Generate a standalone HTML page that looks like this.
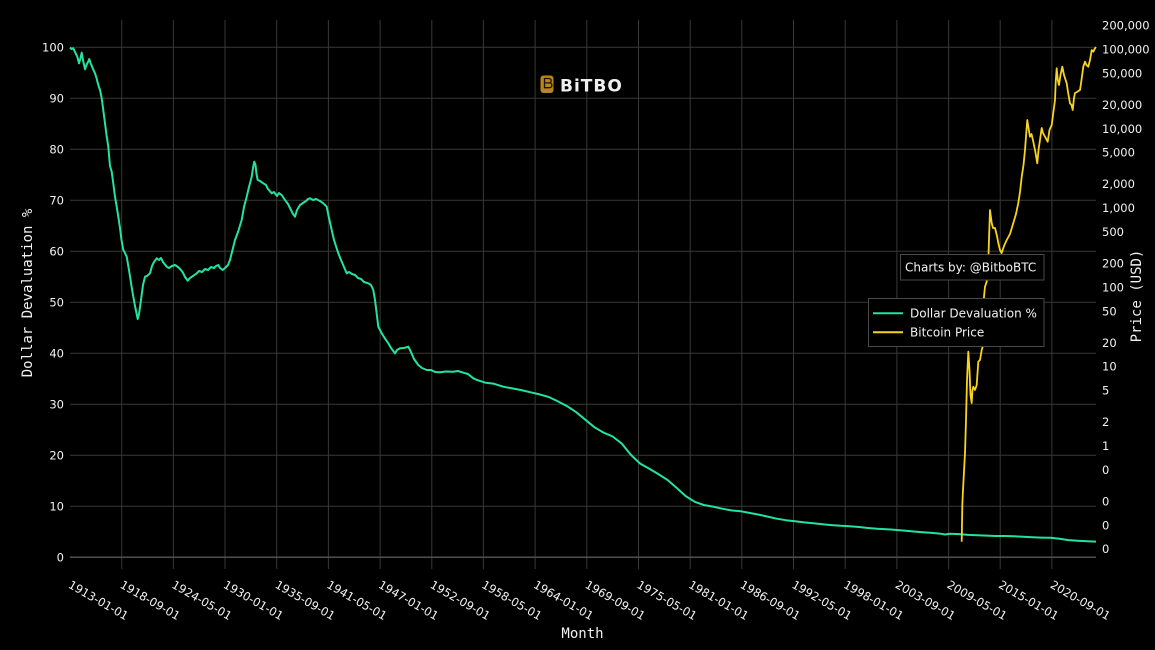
<!DOCTYPE html>
<html>
<head>
<meta charset="utf-8">
<style>
html,body{margin:0;padding:0;background:#000;}
svg{display:block;}
text{font-family:"DejaVu Sans","Liberation Sans",sans-serif;fill:#f2f2f2;}
.mono{font-family:"DejaVu Sans Mono","Liberation Mono",monospace;}
</style>
</head>
<body>
<svg width="1155" height="650" viewBox="0 0 1155 650" xmlns="http://www.w3.org/2000/svg">
<rect x="0" y="0" width="1155" height="650" fill="#000"/>

<!-- horizontal grid -->
<g stroke="#383838" stroke-width="1">
<line x1="70" x2="1096" y1="47.3" y2="47.3"/>
<line x1="70" x2="1096" y1="98.3" y2="98.3"/>
<line x1="70" x2="1096" y1="149.3" y2="149.3"/>
<line x1="70" x2="1096" y1="200.3" y2="200.3"/>
<line x1="70" x2="1096" y1="251.3" y2="251.3"/>
<line x1="70" x2="1096" y1="302.3" y2="302.3"/>
<line x1="70" x2="1096" y1="353.3" y2="353.3"/>
<line x1="70" x2="1096" y1="404.3" y2="404.3"/>
<line x1="70" x2="1096" y1="455.3" y2="455.3"/>
<line x1="70" x2="1096" y1="506.3" y2="506.3"/>
</g>
<!-- vertical grid + ticks -->
<g stroke="#383838" stroke-width="1">
<line x1="121.7" x2="121.7" y1="20" y2="569"/>
<line x1="173.4" x2="173.4" y1="20" y2="569"/>
<line x1="225.0" x2="225.0" y1="20" y2="569"/>
<line x1="276.7" x2="276.7" y1="20" y2="569"/>
<line x1="328.4" x2="328.4" y1="20" y2="569"/>
<line x1="380.1" x2="380.1" y1="20" y2="569"/>
<line x1="431.8" x2="431.8" y1="20" y2="569"/>
<line x1="483.4" x2="483.4" y1="20" y2="569"/>
<line x1="535.1" x2="535.1" y1="20" y2="569"/>
<line x1="586.8" x2="586.8" y1="20" y2="569"/>
<line x1="638.5" x2="638.5" y1="20" y2="569"/>
<line x1="690.2" x2="690.2" y1="20" y2="569"/>
<line x1="741.8" x2="741.8" y1="20" y2="569"/>
<line x1="793.5" x2="793.5" y1="20" y2="569"/>
<line x1="845.2" x2="845.2" y1="20" y2="569"/>
<line x1="896.9" x2="896.9" y1="20" y2="569"/>
<line x1="948.6" x2="948.6" y1="20" y2="569"/>
<line x1="1000.2" x2="1000.2" y1="20" y2="569"/>
<line x1="1051.9" x2="1051.9" y1="20" y2="569"/>
</g>
<!-- zero line -->
<line x1="70" x2="1096" y1="557.3" y2="557.3" stroke="#505050" stroke-width="1.5"/>

<!-- left y tick labels -->
<g font-size="11.5" text-anchor="end">
<text x="64" y="51.5">100</text>
<text x="64" y="102.5">90</text>
<text x="64" y="153.5">80</text>
<text x="64" y="204.5">70</text>
<text x="64" y="255.5">60</text>
<text x="64" y="306.5">50</text>
<text x="64" y="357.5">40</text>
<text x="64" y="408.5">30</text>
<text x="64" y="459.5">20</text>
<text x="64" y="510.5">10</text>
<text x="64" y="561.5">0</text>
</g>

<!-- right y tick labels -->
<g font-size="11.5" text-anchor="start">
<text x="1102" y="29.6">200,000</text>
<text x="1102" y="53.5">100,000</text>
<text x="1102" y="77.4">50,000</text>
<text x="1102" y="108.9">20,000</text>
<text x="1102" y="132.8">10,000</text>
<text x="1102" y="156.7">5,000</text>
<text x="1102" y="188.2">2,000</text>
<text x="1102" y="212.1">1,000</text>
<text x="1102" y="236.1">500</text>
<text x="1102" y="267.6">200</text>
<text x="1102" y="291.4">100</text>
<text x="1102" y="315.3">50</text>
<text x="1102" y="346.8">20</text>
<text x="1102" y="370.7">10</text>
<text x="1102" y="394.6">5</text>
<text x="1102" y="426.1">2</text>
<text x="1102" y="450">1</text>
<text x="1102" y="473.9">0</text>
<text x="1102" y="505.4">0</text>
<text x="1102" y="529.3">0</text>
<text x="1102" y="553.2">0</text>
</g>

<!-- x tick labels -->
<g font-size="11.5">
<text transform="translate(67.5,587) rotate(30)">1913-01-01</text>
<text transform="translate(119.2,587) rotate(30)">1918-09-01</text>
<text transform="translate(170.9,587) rotate(30)">1924-05-01</text>
<text transform="translate(222.5,587) rotate(30)">1930-01-01</text>
<text transform="translate(274.2,587) rotate(30)">1935-09-01</text>
<text transform="translate(325.9,587) rotate(30)">1941-05-01</text>
<text transform="translate(377.6,587) rotate(30)">1947-01-01</text>
<text transform="translate(429.3,587) rotate(30)">1952-09-01</text>
<text transform="translate(480.9,587) rotate(30)">1958-05-01</text>
<text transform="translate(532.6,587) rotate(30)">1964-01-01</text>
<text transform="translate(584.3,587) rotate(30)">1969-09-01</text>
<text transform="translate(636.0,587) rotate(30)">1975-05-01</text>
<text transform="translate(687.7,587) rotate(30)">1981-01-01</text>
<text transform="translate(739.3,587) rotate(30)">1986-09-01</text>
<text transform="translate(791.0,587) rotate(30)">1992-05-01</text>
<text transform="translate(842.7,587) rotate(30)">1998-01-01</text>
<text transform="translate(894.4,587) rotate(30)">2003-09-01</text>
<text transform="translate(946.1,587) rotate(30)">2009-05-01</text>
<text transform="translate(997.7,587) rotate(30)">2015-01-01</text>
<text transform="translate(1049.4,587) rotate(30)">2020-09-01</text>
</g>

<!-- axis titles -->
<text class="mono" font-size="14" text-anchor="middle" transform="translate(32,293) rotate(-90)">Dollar Devaluation %</text>
<text class="mono" font-size="14" text-anchor="middle" x="582.5" y="638">Month</text>
<text class="mono" font-size="14" text-anchor="middle" transform="translate(1141,296) rotate(-90)">Price (USD)</text>

<!-- Dollar devaluation line -->
<polyline fill="none" stroke="#22e3a0" stroke-width="2" stroke-linejoin="round" points="
70,47.5 71.5,49 73.3,48.3 75,52 77.3,56.7 79,63.3 80.5,58 81.7,52.7 83,60 85,69.3 86.5,65 88,62 89.3,59 90.5,63 91.7,65.7 93,69 95,73.3 96.5,78 98.3,85 100,90 101.7,98.3 103,108 105,123.3 106.5,135 108.3,146.7 110,166 111.7,171.7 113.5,185 115,196.7 116.7,206.7 118.3,216.7 120,228 121.5,240 123.3,250 124.5,252 126.7,256.7 129,270 131,283 133,295 135,306 137.7,319 139,314 141,300 143,285 145,276.7 147,276 150,273.3 152,266 154,262 156.7,258.3 159,260 161,258 163,262 166.7,266.7 169,268 172,266 175,265 178,267 181,270 183.3,273.3 185,277 187.7,280.7 190,278 193,276 196.7,273.3 199,271 202,272 205,269 208,270 211,267 214,268 216,266 218.3,265 220,268 222.7,270 225,268 228,265 230,260 232,252 235,240 238,232 241.7,220 244,207 246.7,196.7 249,187 251.7,176.7 253,168 254.3,161.7 255.5,165 256.5,174 257.7,180 260,181 263.3,183.3 266,185 268,189 271.7,193.3 274,192 277,196 279,193 281.7,195 285,200 288,204 291,210 293,214 295,216.7 297,210 300,205 303,203 306,201 308,199 310,198.3 313,200 316,199 320,201 323.3,203.3 326.7,206.7 329,218 331.7,230 334,240 338.3,253.3 341,260 344,267 346.7,273.3 349,272 352,274 355,275 358,278 361,279 364,282 368.3,283.3 371,285 373.3,290 375,300 376.5,312 378.3,326.7 381,332 384,337 388.3,343.3 391,348 395,353.3 397,350 400,348.3 404,348 408.3,346.7 411,352 414,359 418.3,365 422,368 426.7,370 431,370 435,372 440,372.3 446,371.5 453.3,371.7 458,371 463.3,372.7 468,374 473.3,378.3 477,380 485,382.6 494.1,383.8 503.2,386.7 512.3,388.4 521.4,390.1 530.6,392.3 539.7,394.4 548.8,397 557.9,401.4 567,406.1 576.2,412.2 585.3,419.7 594.4,427.2 603.5,432.6 612.6,436.5 621.8,443.6 630.9,454.9 640,463.5 649.1,468.6 658.2,474 667.4,479.9 676.5,487.7 685.6,496 694.7,501.8 703.8,505 713,506.6 722.1,508.7 731.2,510.4 740.3,511.2 749.4,512.9 758.6,514.6 767.7,516.6 776.8,518.7 785.9,520.2 795,521.3 804.2,522.4 813.3,523.2 822.4,524.2 831.5,525.1 840.6,525.8 849.8,526.3 858.9,527 868,528 877.1,528.8 886.2,529.2 895.4,529.9 904.5,530.6 913.6,531.5 922.7,532.3 931.8,532.9 941,533.8 945,534.5 950.1,533.7 959.2,534.1 968.3,534.9 977.4,535.3 986.6,535.6 995.7,536 1004.8,536 1013.9,536.2 1023,536.7 1032.2,537.2 1041.3,537.6 1050.4,537.8 1059.5,538.7 1068.6,540.1 1077.8,540.7 1086.9,541.2 1096,541.6"/>

<!-- Bitcoin line -->
<polyline fill="none" stroke="#f8d41c" stroke-width="1.8" stroke-linejoin="round" points="
961.7,541.7 961.9,530 962.3,505 963,490 965,453 966,420 967,380 968.3,351.7 969.5,370 970.5,395 971.7,403 972.5,390 973.3,386.7 975,390 976.7,385 978.3,361.7 980,360 981.7,350 982.7,346.7 983.5,320 984,296.7 985,286.7 986.7,281.7 987.5,270 988.5,255 989.3,230 990,210 991.7,223 993,228 995,228 997,236 998.3,243 1000,250 1001.7,253 1004,246 1006.7,240 1010,234 1013.3,223 1016,214 1018.3,203 1020,192 1021.7,177 1023.5,165 1025,150 1026.5,130 1027.3,120 1028.5,128 1030,136.7 1031.5,134 1033.3,141.7 1035,150 1037.3,163.3 1038.5,150 1040,140 1041.7,128 1043,133 1045,136.7 1047.7,141.7 1049.5,130 1051.7,125 1053,115 1055,100 1055.8,80 1056.7,68.3 1057.8,80 1059,85 1060.5,75 1062.3,66.7 1064,75 1066.7,83.3 1068,92 1070,103.3 1071.5,105 1072.7,110 1074,98 1075,93 1077,92 1080,90 1081.5,80 1083.3,66.7 1085,61.7 1086.5,65 1088.3,66.7 1090,60 1091.7,50 1093.3,51.7 1095,48.3 1096,47"/>

<!-- Charts by annotation -->
<rect x="900.5" y="254.5" width="143.5" height="25.5" fill="#000" stroke="#4a4a4a" stroke-width="1"/>
<text x="905" y="271.5" font-size="12">Charts by: @BitboBTC</text>

<!-- Legend -->
<rect x="868.5" y="298.5" width="175.5" height="48" fill="#000" stroke="#4a4a4a" stroke-width="1"/>
<line x1="873" x2="903" y1="313.3" y2="313.3" stroke="#22e3a0" stroke-width="2"/>
<line x1="873" x2="903" y1="332.3" y2="332.3" stroke="#f8d41c" stroke-width="2"/>
<text x="910" y="317.5" font-size="12">Dollar Devaluation %</text>
<text x="910" y="336.5" font-size="12">Bitcoin Price</text>

<!-- Logo -->
<g>
<path d="M543.5,75.5 h7 a3,3 0 0 1 3,3 v11.5 a3,3 0 0 1 -3,3 h-7 a3,3 0 0 1 -3,-3 v-11.5 a3,3 0 0 1 3,-3 z" fill="#b8861b"/>
<path d="M544.5,78.5 h4.5 a2.2,2.2 0 0 1 0,4.4 h-4.5 z M544.5,82.9 h5 a2.4,2.4 0 0 1 0,4.8 h-5 z" fill="none" stroke="#1a1205" stroke-width="1.3"/>
<text x="560" y="91.5" font-size="17" font-weight="bold" letter-spacing="1" style="fill:#f0f0f0">BiTBO</text>
</g>
</svg>
</body>
</html>
